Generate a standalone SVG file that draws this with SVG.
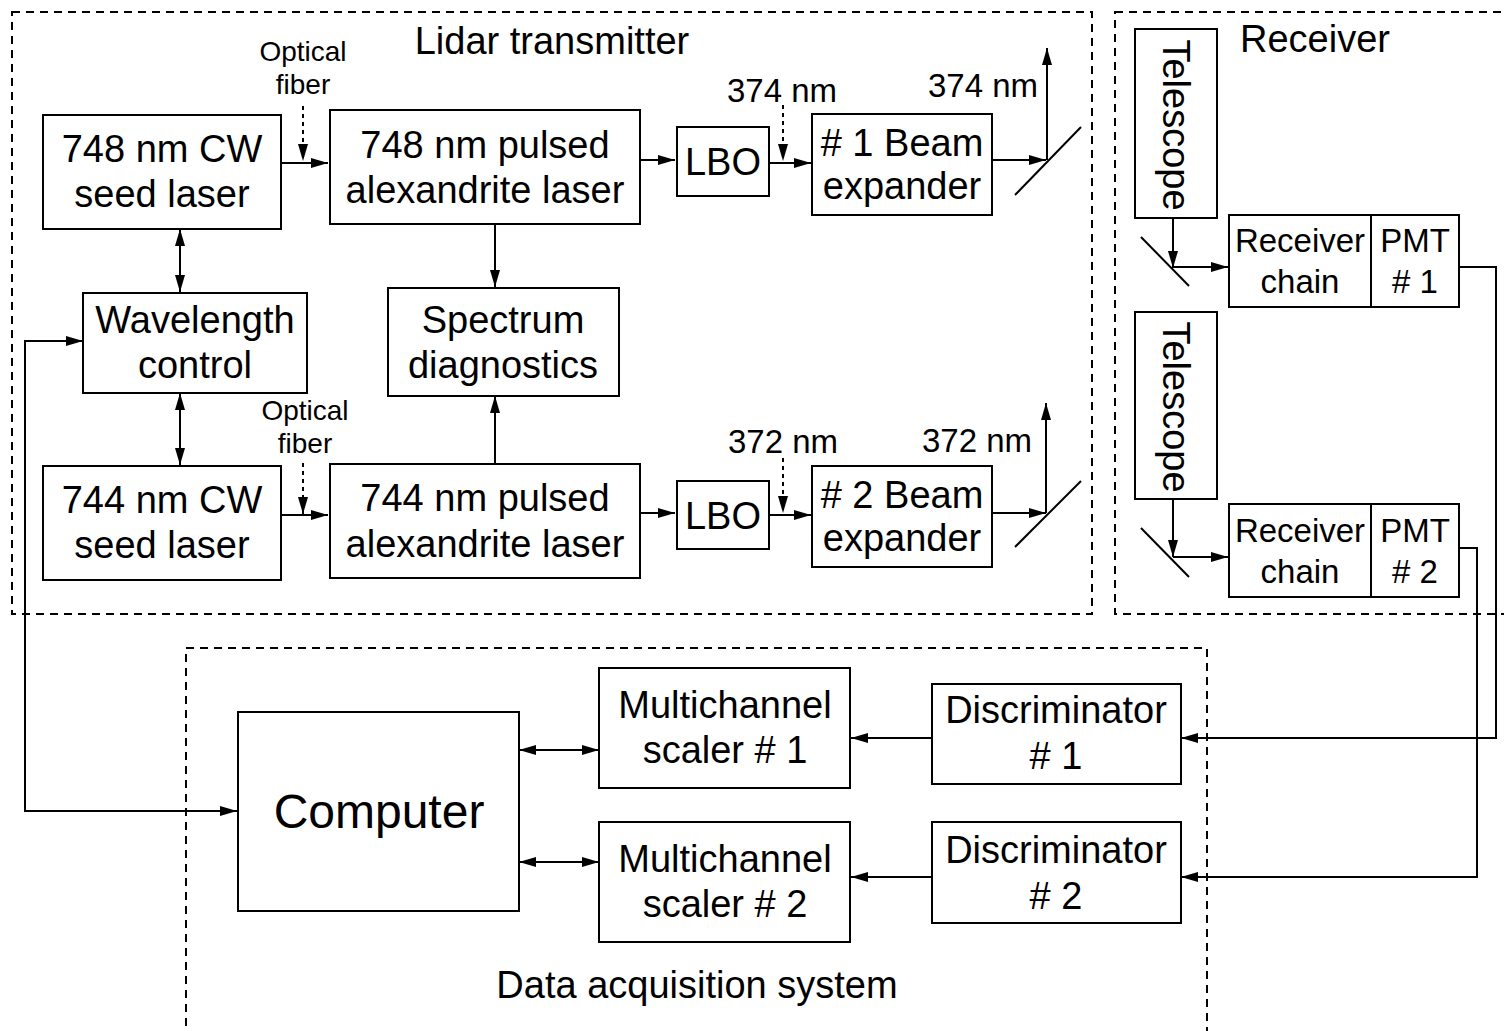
<svg xmlns="http://www.w3.org/2000/svg" width="1504" height="1031" viewBox="0 0 1504 1031">
<style>
.box{fill:#fff;stroke:#000;stroke-width:2}
.grp{fill:none;stroke:#000;stroke-width:2;stroke-dasharray:8 6}
.ln{fill:none;stroke:#000;stroke-width:2}
.fib{fill:none;stroke:#000;stroke-width:2;stroke-dasharray:4 4}
text{font-family:"Liberation Sans",Arial,sans-serif;fill:#000;text-anchor:middle}
.t{font-size:38px}
.s{font-size:33px}
.xs{font-size:28px}
.big{font-size:48px}
</style>
<defs>
<marker id="ah" viewBox="0 0 17 10" refX="17" refY="5" markerWidth="17" markerHeight="10" markerUnits="userSpaceOnUse" orient="auto-start-reverse"><path d="M0,0 L17,5 L0,10 z" fill="#000"/></marker>
</defs>

<g id="groups">
<rect class="grp" x="12" y="12" width="1080" height="602"/>
<rect class="grp" x="1115" y="12" width="400" height="602"/>
<rect class="grp" x="186" y="648" width="1021" height="400"/>
<text class="t" x="552" y="54">Lidar transmitter</text>
<text class="t" x="1315" y="52">Receiver</text>
<text class="t" x="697" y="998">Data acquisition system</text>
</g>

<g id="connectors">
<line class="ln" x1="281" y1="163" x2="328" y2="163" marker-end="url(#ah)"/>
<line class="fib" x1="303" y1="106" x2="303" y2="161" marker-end="url(#ah)"/>
<line class="ln" x1="640" y1="160" x2="675" y2="160" marker-end="url(#ah)"/>
<line class="ln" x1="769" y1="163" x2="811" y2="163" marker-end="url(#ah)"/>
<line class="fib" x1="783" y1="105" x2="783" y2="161" marker-end="url(#ah)"/>
<line class="ln" x1="992" y1="160" x2="1046" y2="160" marker-end="url(#ah)"/>
<line class="ln" x1="1015" y1="195" x2="1081" y2="127"/>
<line class="ln" x1="1047" y1="160" x2="1047" y2="48" marker-end="url(#ah)"/>

<line class="ln" x1="180" y1="229" x2="180" y2="292" marker-start="url(#ah)" marker-end="url(#ah)"/>
<line class="ln" x1="180" y1="393" x2="180" y2="465" marker-start="url(#ah)" marker-end="url(#ah)"/>
<line class="ln" x1="495" y1="224" x2="495" y2="287" marker-end="url(#ah)"/>
<line class="ln" x1="495" y1="464" x2="495" y2="396" marker-end="url(#ah)"/>

<line class="ln" x1="281" y1="515" x2="328" y2="515" marker-end="url(#ah)"/>
<line class="fib" x1="303" y1="463" x2="303" y2="514" marker-end="url(#ah)"/>
<line class="ln" x1="640" y1="513" x2="675" y2="513" marker-end="url(#ah)"/>
<line class="ln" x1="769" y1="515" x2="811" y2="515" marker-end="url(#ah)"/>
<line class="fib" x1="783" y1="458" x2="783" y2="513" marker-end="url(#ah)"/>
<line class="ln" x1="992" y1="513" x2="1046" y2="513" marker-end="url(#ah)"/>
<line class="ln" x1="1015" y1="547" x2="1081" y2="481"/>
<line class="ln" x1="1046" y1="513" x2="1046" y2="403" marker-end="url(#ah)"/>

<polyline class="ln" points="236,811 25,811 25,341 83,341" marker-end="url(#ah)"/>
<line class="ln" x1="200" y1="811" x2="237" y2="811" marker-end="url(#ah)"/>

<line class="ln" x1="1173" y1="218" x2="1173" y2="268" marker-end="url(#ah)"/>
<line class="ln" x1="1141" y1="237" x2="1189" y2="286"/>
<line class="ln" x1="1173" y1="267" x2="1228" y2="267" marker-end="url(#ah)"/>
<line class="ln" x1="1173" y1="499" x2="1173" y2="557" marker-end="url(#ah)"/>
<line class="ln" x1="1141" y1="528" x2="1189" y2="577"/>
<line class="ln" x1="1173" y1="557" x2="1228" y2="557" marker-end="url(#ah)"/>

<polyline class="ln" points="1459,267 1496,267 1496,738 1181,738" marker-end="url(#ah)"/>
<polyline class="ln" points="1459,548 1477,548 1477,877 1181,877" marker-end="url(#ah)"/>
<line class="ln" x1="932" y1="738" x2="851" y2="738" marker-end="url(#ah)"/>
<line class="ln" x1="932" y1="877" x2="851" y2="877" marker-end="url(#ah)"/>
<line class="ln" x1="519" y1="750" x2="599" y2="750" marker-start="url(#ah)" marker-end="url(#ah)"/>
<line class="ln" x1="519" y1="862" x2="599" y2="862" marker-start="url(#ah)" marker-end="url(#ah)"/>
</g>

<g id="labels">
<text class="xs" x="303" y="61">Optical</text>
<text class="xs" x="303" y="94">fiber</text>
<text class="xs" x="305" y="420">Optical</text>
<text class="xs" x="305" y="453">fiber</text>
<text class="s" x="782" y="102">374 nm</text>
<text class="s" x="983" y="97">374 nm</text>
<text class="s" x="783" y="453">372 nm</text>
<text class="s" x="977" y="452">372 nm</text>
</g>

<g id="seed748"><rect class="box" x="43" y="115" width="238" height="114"/>
<text class="t" x="162" y="162">748 nm CW</text><text class="t" x="162" y="207">seed laser</text></g>
<g id="pulsed748"><rect class="box" x="330" y="110" width="310" height="114"/>
<text class="t" x="485" y="158">748 nm pulsed</text><text class="t" x="485" y="203">alexandrite laser</text></g>
<g id="lbo1"><rect class="box" x="677" y="127" width="92" height="69"/>
<text class="t" x="723" y="175">LBO</text></g>
<g id="be1"><rect class="box" x="812" y="114" width="180" height="101"/>
<text class="t" x="902" y="156">#&#160;1 Beam</text><text class="t" x="902" y="199">expander</text></g>

<g id="wavelength"><rect class="box" x="83" y="293" width="224" height="100"/>
<text class="t" x="195" y="333">Wavelength</text><text class="t" x="195" y="378">control</text></g>
<g id="spectrum"><rect class="box" x="388" y="288" width="231" height="108"/>
<text class="t" x="503" y="333">Spectrum</text><text class="t" x="503" y="378">diagnostics</text></g>

<g id="seed744"><rect class="box" x="43" y="466" width="238" height="114"/>
<text class="t" x="162" y="513">744 nm CW</text><text class="t" x="162" y="558">seed laser</text></g>
<g id="pulsed744"><rect class="box" x="330" y="464" width="310" height="114"/>
<text class="t" x="485" y="511">744 nm pulsed</text><text class="t" x="485" y="557">alexandrite laser</text></g>
<g id="lbo2"><rect class="box" x="677" y="481" width="92" height="68"/>
<text class="t" x="723" y="529">LBO</text></g>
<g id="be2"><rect class="box" x="812" y="466" width="180" height="101"/>
<text class="t" x="902" y="508">#&#160;2 Beam</text><text class="t" x="902" y="551">expander</text></g>

<g id="telescope1"><rect class="box" x="1135" y="29" width="82" height="189"/>
<text class="t" transform="translate(1163,125) rotate(90)">Telescope</text></g>
<g id="rx1"><rect class="box" x="1229" y="215" width="230" height="92"/><line class="ln" x1="1371" y1="215" x2="1371" y2="307"/>
<text class="s" x="1300" y="252">Receiver</text><text class="s" x="1300" y="293">chain</text>
<text class="s" x="1415" y="252">PMT</text><text class="s" x="1415" y="293">#&#160;1</text></g>
<g id="telescope2"><rect class="box" x="1135" y="312" width="82" height="187"/>
<text class="t" transform="translate(1163,407) rotate(90)">Telescope</text></g>
<g id="rx2"><rect class="box" x="1229" y="504" width="230" height="93"/><line class="ln" x1="1371" y1="504" x2="1371" y2="597"/>
<text class="s" x="1300" y="542">Receiver</text><text class="s" x="1300" y="583">chain</text>
<text class="s" x="1415" y="542">PMT</text><text class="s" x="1415" y="583">#&#160;2</text></g>

<g id="computer"><rect class="box" x="238" y="712" width="281" height="199"/>
<text class="big" x="379" y="828">Computer</text></g>
<g id="mcs1"><rect class="box" x="599" y="668" width="251" height="120"/>
<text class="t" x="725" y="718">Multichannel</text><text class="t" x="725" y="763">scaler #&#160;1</text></g>
<g id="mcs2"><rect class="box" x="599" y="822" width="251" height="120"/>
<text class="t" x="725" y="872">Multichannel</text><text class="t" x="725" y="917">scaler #&#160;2</text></g>
<g id="disc1"><rect class="box" x="932" y="684" width="249" height="100"/>
<text class="t" x="1056" y="723">Discriminator</text><text class="t" x="1056" y="769">#&#160;1</text></g>
<g id="disc2"><rect class="box" x="932" y="822" width="249" height="101"/>
<text class="t" x="1056" y="863">Discriminator</text><text class="t" x="1056" y="909">#&#160;2</text></g>
</svg>
